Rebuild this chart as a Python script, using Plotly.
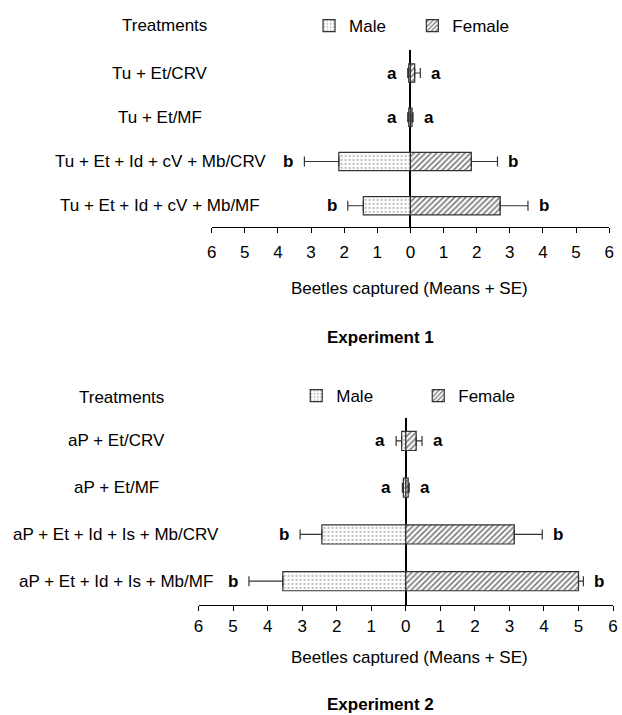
import plotly.graph_objects as go

W, H = 622, 715
FONT = "Liberation Sans, Arial, sans-serif"

# ---------------- data ----------------
exp1_treatments = ["Tu + Et/CRV", "Tu + Et/MF", "Tu + Et + Id + cV + Mb/CRV", "Tu + Et + Id + cV + Mb/MF"]
exp1_male = [0.05, 0.05, 2.16, 1.42]
exp1_male_se = [0.03, 0.03, 1.04, 0.47]
exp1_female = [0.13, 0.05, 1.84, 2.71]
exp1_female_se = [0.17, 0.03, 0.79, 0.84]
exp1_male_letters = ["a", "a", "b", "b"]
exp1_female_letters = ["a", "a", "b", "b"]

exp2_treatments = ["aP + Et/CRV", "aP + Et/MF", "aP + Et + Id + Is + Mb/CRV", "aP + Et + Id + Is + Mb/MF"]
exp2_male = [0.12, 0.07, 2.43, 3.56]
exp2_male_se = [0.16, 0.03, 0.63, 0.98]
exp2_female = [0.30, 0.07, 3.14, 5.00]
exp2_female_se = [0.17, 0.03, 0.81, 0.14]
exp2_male_letters = ["a", "a", "b", "b"]
exp2_female_letters = ["a", "a", "b", "b"]

tick_values = [-6, -5, -4, -3, -2, -1, 0, 1, 2, 3, 4, 5, 6]
tick_labels = ["6", "5", "4", "3", "2", "1", "0", "1", "2", "3", "4", "5", "6"]
series_names = ["Male", "Female"]
panel_titles = ["Experiment 1", "Experiment 2"]
axis_title = "Beetles captured (Means + SE)"
header = "Treatments"

# ---------------- styles ----------------
EDGE = "#333333"
male_pattern = dict(shape=".", fgcolor="#7a7a7a", bgcolor="white", size=4, solidity=0.25)
female_pattern = dict(shape="/", fgcolor="#000000", bgcolor="white", size=4, solidity=0.45)

fig = go.Figure()

panels = [
    dict(cats=exp1_treatments, m=exp1_male, mse=exp1_male_se, f=exp1_female, fse=exp1_female_se,
         ml=exp1_male_letters, fl=exp1_female_letters, xa="x", ya="y", legs=("legend", "legend2")),
    dict(cats=exp2_treatments, m=exp2_male, mse=exp2_male_se, f=exp2_female, fse=exp2_female_se,
         ml=exp2_male_letters, fl=exp2_female_letters, xa="x2", ya="y2", legs=("legend3", "legend4")),
]

annotations = []
for p in panels:
    n = len(p["cats"])
    fig.add_trace(go.Bar(
        y=p["cats"], x=[-v for v in p["m"]], orientation="h", name=series_names[0],
        marker=dict(color="white", pattern=male_pattern, line=dict(color=EDGE, width=1.2)),
        error_x=dict(type="data", symmetric=False, array=[0] * n, arrayminus=p["mse"],
                     color=EDGE, thickness=1.2, width=5),
        xaxis=p["xa"], yaxis=p["ya"], legend=p["legs"][0], showlegend=True,
    ))
    fig.add_trace(go.Bar(
        y=p["cats"], x=p["f"], orientation="h", name=series_names[1],
        marker=dict(color="white", pattern=female_pattern, line=dict(color=EDGE, width=1.2)),
        error_x=dict(type="data", symmetric=False, array=p["fse"], arrayminus=[0] * n,
                     color=EDGE, thickness=1.2, width=5),
        xaxis=p["xa"], yaxis=p["ya"], legend=p["legs"][1], showlegend=True,
    ))
    for c, v, s, t in zip(p["cats"], p["m"], p["mse"], p["ml"]):
        annotations.append(dict(x=-(v + s), y=c, xref=p["xa"], yref=p["ya"], text="<b>%s</b>" % t,
                                xanchor="right", yanchor="middle", xshift=-9, showarrow=False,
                                font=dict(size=17, color="black", family=FONT)))
    for c, v, s, t in zip(p["cats"], p["f"], p["fse"], p["fl"]):
        annotations.append(dict(x=v + s, y=c, xref=p["xa"], yref=p["ya"], text="<b>%s</b>" % t,
                                xanchor="left", yanchor="middle", xshift=9, showarrow=False,
                                font=dict(size=17, color="black", family=FONT)))

# category labels (centered column left of the axes)
label_x = [158, 113]
for p, lx in zip(panels, label_x):
    for c in p["cats"]:
        annotations.append(dict(x=lx / W, y=c, xref="paper", yref=p["ya"], text=c, xanchor="center",
                                yanchor="middle", showarrow=False,
                                font=dict(size=17, color="black", family=FONT)))

def py(v):
    return 1 - v / H

# headers, axis titles, panel titles
for hx, hy in [(162, 25), (118, 397)]:
    annotations.append(dict(x=hx / W, y=py(hy), xref="paper", yref="paper", text=header,
                            xanchor="center", yanchor="middle", showarrow=False,
                            font=dict(size=17, color="black", family=FONT)))
for ty in [288, 657]:
    annotations.append(dict(x=411 / W, y=py(ty), xref="paper", yref="paper", text=axis_title,
                            xanchor="center", yanchor="middle", showarrow=False,
                            font=dict(size=17, color="black", family=FONT)))
for t, ty in zip(panel_titles, [337, 704]):
    annotations.append(dict(x=382 / W, y=py(ty), xref="paper", yref="paper", text="<b>%s</b>" % t,
                            xanchor="center", yanchor="middle", showarrow=False,
                            font=dict(size=17, color="black", family=FONT)))

xaxis_common = dict(range=[-6, 6], tickvals=tick_values, ticktext=tick_labels, showline=True,
                    linecolor="black", linewidth=1.2, ticks="outside", ticklen=5, tickwidth=1.2,
                    tickcolor="black", showgrid=False, zeroline=True, zerolinecolor="black",
                    zerolinewidth=1.5, tickfont=dict(size=17, color="black", family=FONT),
                    ticklabeloverflow="allow", fixedrange=True)
yaxis_common = dict(type="category", showticklabels=False, showline=False, ticks="",
                    showgrid=False, zeroline=False, fixedrange=True)

legend_common = dict(orientation="h", xanchor="left", yanchor="middle", bgcolor="rgba(0,0,0,0)",
                     borderwidth=0, font=dict(size=17, color="black", family=FONT), itemwidth=30)

fig.update_layout(
    width=W, height=H, margin=dict(l=0, r=0, t=0, b=0),
    paper_bgcolor="white", plot_bgcolor="white",
    barmode="overlay", bargap=0.59,
    font=dict(family=FONT, size=17, color="black"),
    xaxis=dict(domain=[210 / W, 614 / W], anchor="y", ticklabelstandoff=4, **xaxis_common),
    yaxis=dict(domain=[py(227), py(50)], anchor="x", categoryarray=exp1_treatments,
               range=[3.48, -0.52], **yaxis_common),
    xaxis2=dict(domain=[196.7 / W, 618 / W], anchor="y2", ticklabelstandoff=0, **xaxis_common),
    yaxis2=dict(domain=[py(605), py(418)], anchor="x2", categoryarray=exp2_treatments,
                range=[3.51, -0.49], **yaxis_common),
    legend=dict(x=309 / W, y=py(26), **legend_common),
    legend2=dict(x=414 / W, y=py(26), **legend_common),
    legend3=dict(x=296 / W, y=py(396), **legend_common),
    legend4=dict(x=420 / W, y=py(396), **legend_common),
    annotations=annotations,
)

fig.write_html("out.html", config={"displayModeBar": False},
               post_script="document.body.style.margin='0px';document.body.style.overflow='hidden';")
